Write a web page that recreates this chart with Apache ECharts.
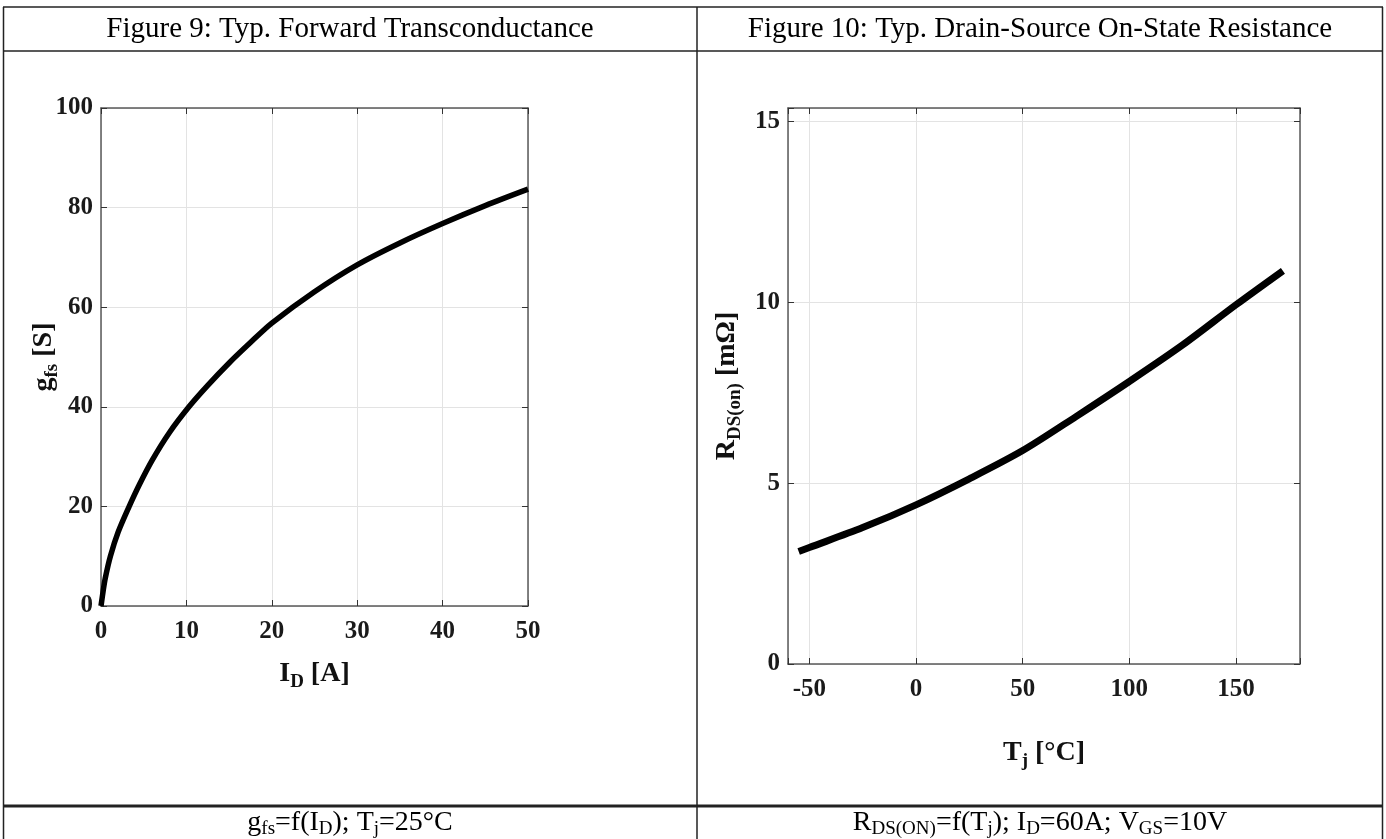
<!DOCTYPE html>
<html>
<head>
<meta charset="utf-8">
<script src="https://cdn.jsdelivr.net/npm/echarts@6/dist/echarts.min.js"></script>
<style>
  html, body { margin: 0; padding: 0; background: #fff; }
  #chart { width: 1386px; height: 839px; }
</style>
</head>
<body>
<div id="chart"></div>
<script>
// Figure 9: g_fs vs I_D
const idAmp = [0, 0.25, 0.5, 1.1, 2, 3.3, 4.5, 6, 8, 10.3, 12.5, 15, 17.5, 20, 25, 30, 35, 40, 45, 50];
const gfs   = [0, 3.0, 5.6, 10, 14.8, 20, 24.4, 29.3, 34.8, 40, 44.3, 48.8, 52.9, 56.8, 63.1, 68.5, 72.9, 76.8, 80.4, 83.7];

// Figure 10: R_DS(on) vs T_j
const tj    = [-55, -50, -25, 0, 25, 50, 75, 100, 125, 150, 172];
const rdson = [3.11, 3.22, 3.77, 4.40, 5.12, 5.90, 6.84, 7.81, 8.82, 9.93, 10.87];

// axis ticks
const idTicks = [0, 10, 20, 30, 40, 50];
const gfsTicks = [0, 20, 40, 60, 80, 100];
const tjTicks = [-50, 0, 50, 100, 150];
const rTicks = [0, 5, 10, 15];

const SERIF = '"Liberation Serif", "Times New Roman", serif';
const AXIS_GRAY = '#5a5a5a';

function pairs(xs, ys) {
  return xs.map((x, i) => [x, ys[i]]);
}

// 主轴 + 对边的镜像轴，做成一个框
function axisPair(gridIndex, opt, isX) {
  const main = {
    type: 'value',
    gridIndex: gridIndex,
    position: isX ? 'bottom' : 'left',
    min: opt.min,
    max: opt.max,
    interval: opt.interval,
    name: opt.name,
    nameLocation: 'middle',
    nameGap: opt.nameGap,
    nameMoveOverlap: false,
    nameRotate: isX ? 0 : 90,
    nameTextStyle: {
      fontFamily: SERIF, fontWeight: 'bold', color: '#111',
      rich: {
        m: { fontFamily: SERIF, fontWeight: 'bold', fontSize: 28, color: '#111', lineHeight: 36 },
        s: { fontFamily: SERIF, fontWeight: 'bold', fontSize: 19, color: '#111', lineHeight: 18, verticalAlign: 'bottom' }
      }
    },
    axisLine: { show: true, onZero: false, lineStyle: { color: AXIS_GRAY, width: 1.5 } },
    axisTick: { show: true, inside: true, length: 6, lineStyle: { color: '#333' } },
    axisLabel: {
      margin: opt.labelMargin,
      fontFamily: SERIF, fontWeight: 'bold', fontSize: 25, color: '#1a1a1a',
      showMinLabel: true,
      showMaxLabel: true,
      formatter: v => opt.ticks.indexOf(v) >= 0 ? String(v) : ''
    },
    splitLine: { show: true, lineStyle: { color: '#e3e3e3', width: 1 } }
  };
  if (opt.customStep) {
    delete main.interval;
  }
  const mirror = Object.assign({}, main, {
    position: isX ? 'top' : 'right',
    name: '',
    axisLabel: { show: false },
    splitLine: { show: false }
  });
  return [main, mirror];
}

const xAxes = [].concat(
  axisPair(0, { min: 0, max: 50, interval: 10, ticks: idTicks, labelMargin: 13, nameGap: 50,
    name: '{m|I}{s|D}{m| [A]}' }, true),
  axisPair(1, { min: -60, max: 180, customStep: true, ticks: tjTicks, labelMargin: 13, nameGap: 71,
    name: '{m|T}{s|j}{m| [°C]}' }, true)
);
const yAxes = [].concat(
  axisPair(0, { min: 0, max: 100, interval: 20, ticks: gfsTicks, labelMargin: 8, nameGap: 39,
    name: '{m|g}{s|fs}{m| [S]}' }, false),
  axisPair(1, { min: 0, max: 15.37, interval: 5, ticks: rTicks, labelMargin: 8, nameGap: 43,
    name: '{m|R}{s|DS(on)}{m| [mΩ]}' }, false)
);

function cellText(x, y, text, size) {
  return {
    type: 'text', x: x, y: y, silent: true,
    style: {
      text: text, align: 'center', verticalAlign: 'middle',
      fontFamily: SERIF, fontSize: size, fill: '#000',
      rich: {
        m: { fontFamily: SERIF, fontSize: size, fill: '#000', lineHeight: 32 },
        s: { fontFamily: SERIF, fontSize: Math.round(size * 0.68), fill: '#000', lineHeight: 16, verticalAlign: 'bottom' }
      }
    }
  };
}

function hline(x1, x2, y, w) {
  return { type: 'line', silent: true, shape: { x1: x1, y1: y, x2: x2, y2: y }, style: { stroke: '#222', lineWidth: w } };
}
function vline(x, y1, y2, w) {
  return { type: 'line', silent: true, shape: { x1: x, y1: y1, x2: x, y2: y2 }, style: { stroke: '#222', lineWidth: w } };
}

const chart = echarts.init(document.getElementById('chart'), null, { renderer: 'canvas' });

const option = {
  backgroundColor: '#fff',
  animation: false,
  grid: [
    { left: 101, top: 108, width: 427, height: 498 },
    { left: 788, top: 108, width: 512, height: 556 }
  ],
  xAxis: xAxes,
  yAxis: yAxes,
  series: [
    {
      type: 'line', xAxisIndex: 0, yAxisIndex: 0,
      data: pairs(idAmp, gfs), smooth: 0.3, showSymbol: false,
      lineStyle: { color: '#000', width: 5.5 }
    },
    {
      type: 'line', xAxisIndex: 2, yAxisIndex: 2,
      data: pairs(tj, rdson), smooth: 0.3, showSymbol: false,
      lineStyle: { color: '#000', width: 7 }
    }
  ],
  graphic: [
    // table borders
    hline(3, 1383, 7, 1.5),
    hline(3, 1383, 51, 1.5),
    hline(3, 1383, 806, 3),
    vline(3.5, 7, 839, 1.5),
    vline(697, 7, 839, 1.5),
    vline(1382.5, 7, 839, 1.5),
    cellText(350, 29, 'Figure 9: Typ. Forward Transconductance', 29),
    cellText(1040, 29, 'Figure 10: Typ. Drain-Source On-State Resistance', 29),
    cellText(350, 823, '{m|g}{s|fs}{m|=f(I}{s|D}{m|); T}{s|j}{m|=25°C}', 28),
    cellText(1040, 823, '{m|R}{s|DS(ON)}{m|=f(T}{s|j}{m|); I}{s|D}{m|=60A; V}{s|GS}{m|=10V}', 28)
  ]
};

chart.setOption(option);

window.onresize = function () {
  chart.resize();
};
</script>
</body>
</html>
